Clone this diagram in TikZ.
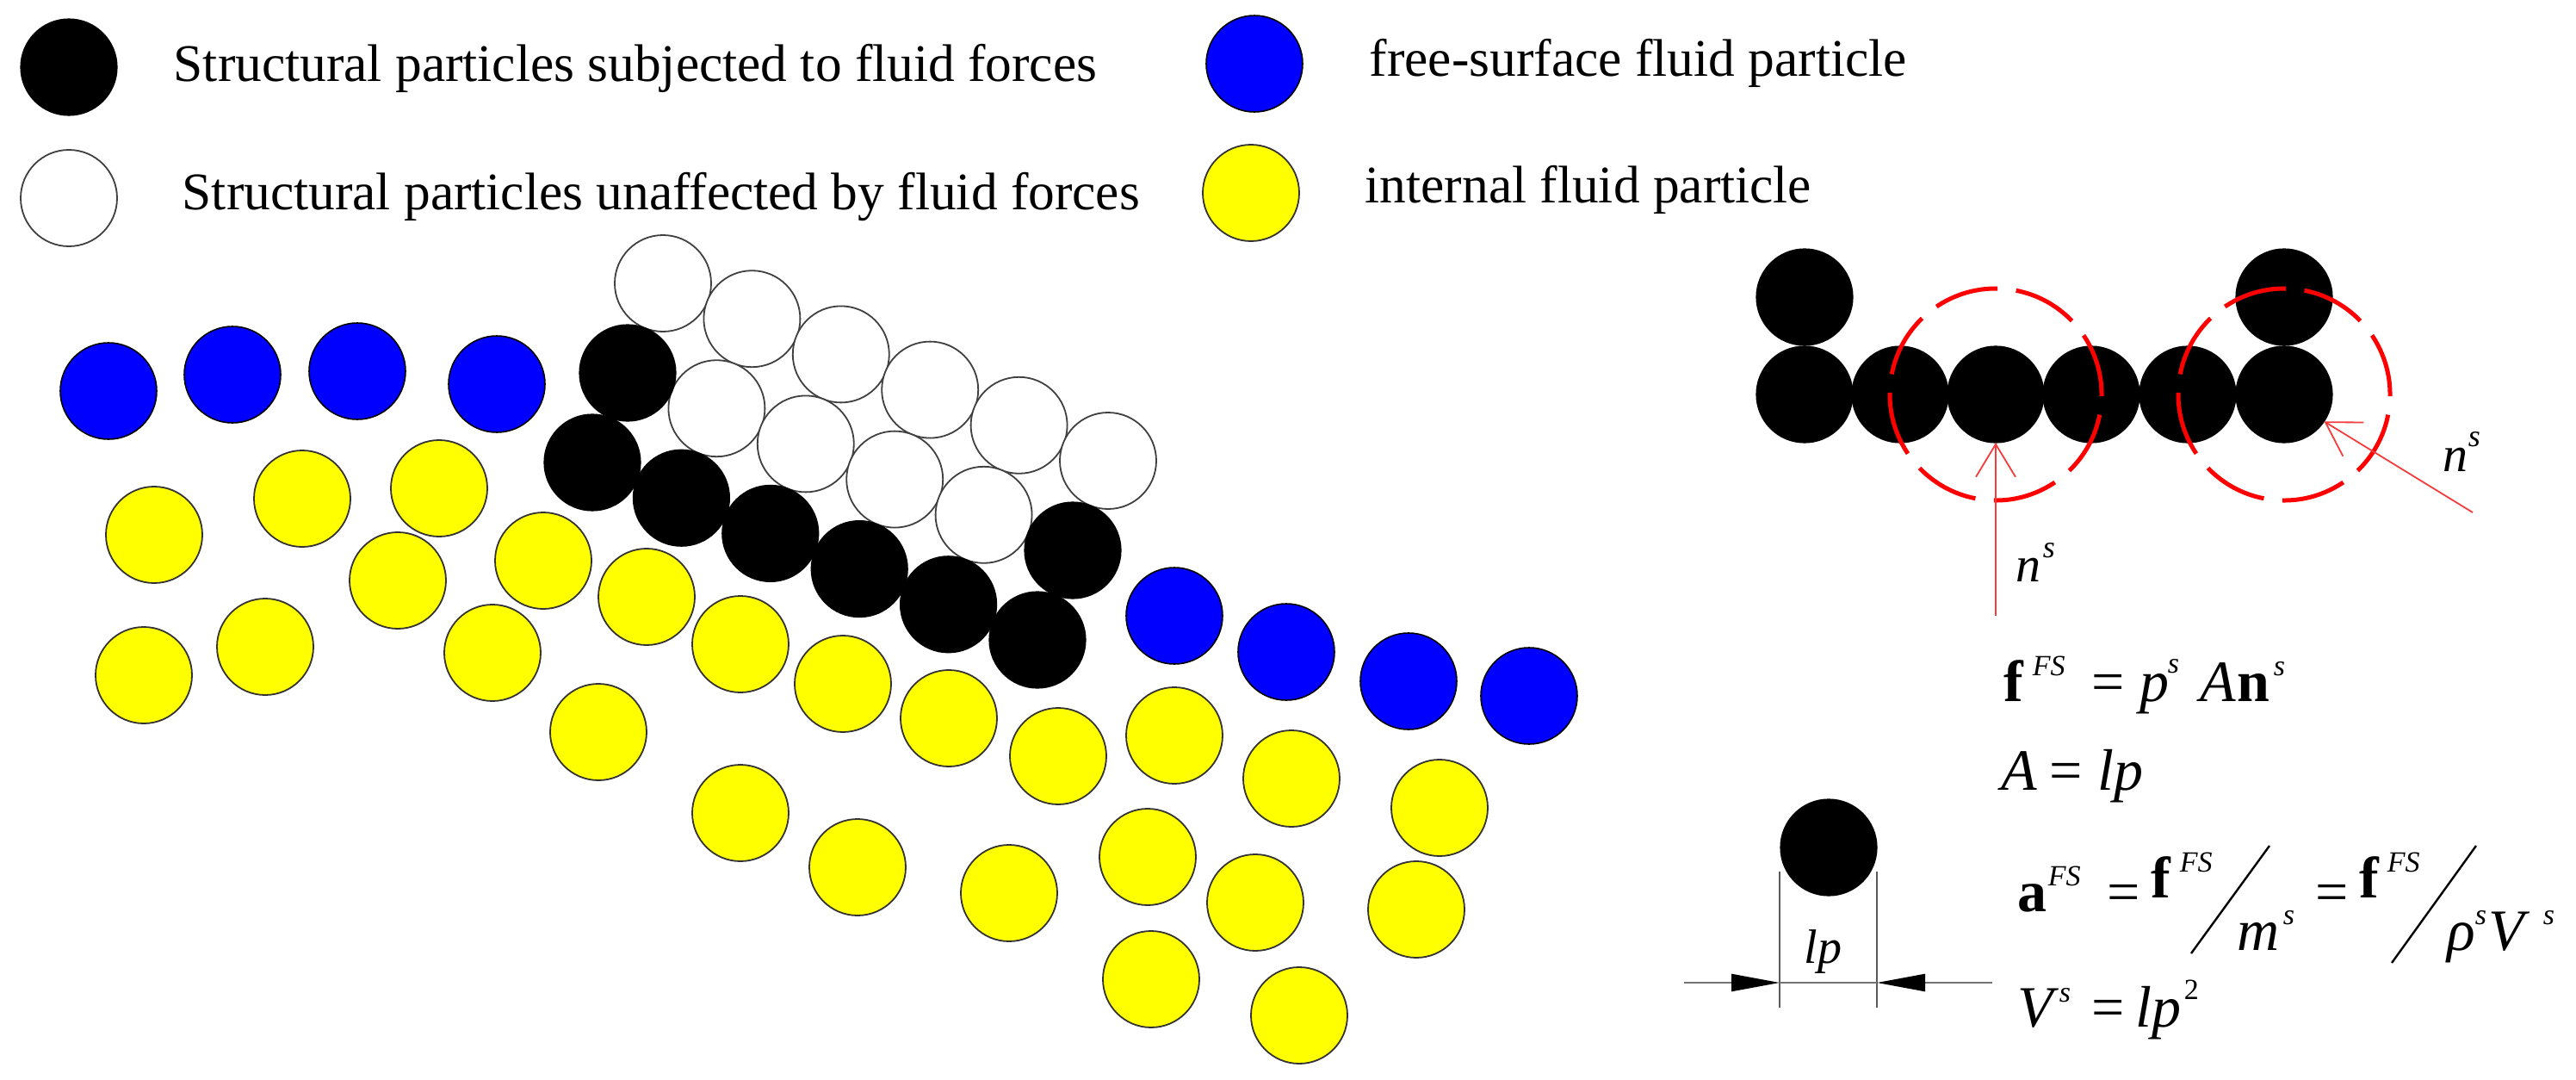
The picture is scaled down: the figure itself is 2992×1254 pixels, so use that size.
\documentclass[tikz,border=0pt]{standalone}
\usepackage{fontspec}
\setmainfont{Liberation Serif}
\usetikzlibrary{arrows.meta}
\newlength\pxu
\setlength\pxu{0.25pt}
\newcommand\pc[3]{\rlap{\hspace*{#1\pxu}\raisebox{#2\pxu}{#3}}\ignorespaces}
\newcommand\sm{\fontsize{8.5}{10}\selectfont}
\newcommand\smm{\fontsize{9}{10}\selectfont}
\newcommand\im[1]{\textit{#1}}
\definecolor{fsblue}{RGB}{0,0,255}
\definecolor{infyellow}{RGB}{255,255,0}
\definecolor{ringred}{RGB}{255,0,0}
\definecolor{vecred}{RGB}{245,60,60}
\tikzset{
  part/.style={circle, minimum size=28pt, inner sep=0pt, outer sep=0pt},
  fsp/.style={part, fill=black, draw=black, line width=0.3pt},
  usp/.style={part, fill=white, draw=black!75, line width=0.45pt},
  fsf/.style={part, fill=fsblue, draw=black, line width=0.4pt},
  inf/.style={part, fill=infyellow, draw=black!80, line width=0.45pt},
  legtext/.style={anchor=base west, inner sep=0pt, font=\fontsize{15.35}{18}\selectfont},
  formula/.style={anchor=base west, inner sep=0pt, font=\fontsize{17}{20}\selectfont},
  nlabel/.style={anchor=base west, inner sep=0pt, font=\fontsize{14.5}{17}\selectfont},
  ring/.style={draw=ringred, line width=1.25pt, dash pattern=on 18.75pt off 5.4pt, dash phase=21.45pt},
  nvec/.style={draw=vecred, line width=0.45pt, -{Straight Barb[length=9.5pt,width=11.5pt]}},
  slashline/.style={draw=black, line width=0.6pt},
  dimline/.style={draw=black!55, line width=0.6pt},
  dimtip/.style={dimline, -{Triangle[length=14pt,width=5pt,color=black]}},
  extline/.style={draw=black!65, line width=0.35pt}
}
\begin{document}
\begin{tikzpicture}[x=0.25pt, y=0.25pt]
\fill[white] (0,0) rectangle (2992,-1254);
\useasboundingbox (0,0) rectangle (2992,-1254);

% legend
\node[fsp] (leg1) at (80,-78) {};
\node[usp] (leg2) at (80,-230) {};
\node[fsf] (leg3) at (1457,-74) {};
\node[inf] (leg4) at (1453,-224) {};
\node[legtext] (lt1) at (201,-94) {Structural particles subjected to fluid forces};
\node[legtext] (lt2) at (211,-243) {Structural particles unaffected by fluid forces};
\node[legtext] (lt3) at (1590,-88) {free-surface fluid particle};
\node[legtext] (lt4) at (1585,-235) {internal fluid particle};

% free-surface fluid particles
\node[fsf] (bl1) at (126,-454) {};
\node[fsf] (bl2) at (270,-435) {};
\node[fsf] (bl3) at (415,-431) {};
\node[fsf] (bl4) at (577,-446) {};
\node[fsf] (bl5) at (1364,-715) {};
\node[fsf] (bl6) at (1494,-757) {};
\node[fsf] (bl7) at (1636,-791) {};
\node[fsf] (bl8) at (1776,-808) {};

% internal fluid particles
\node[inf] (y1) at (179,-621) {};
\node[inf] (y2) at (351,-579) {};
\node[inf] (y3) at (510,-567) {};
\node[inf] (y4) at (462,-674) {};
\node[inf] (y5) at (631,-651) {};
\node[inf] (y6) at (751,-693) {};
\node[inf] (y7) at (167,-784) {};
\node[inf] (y8) at (308,-751) {};
\node[inf] (y9) at (572,-758) {};
\node[inf] (y10) at (860,-748) {};
\node[inf] (y11) at (695,-850) {};
\node[inf] (y12) at (860,-944) {};
\node[inf] (y13) at (979,-794) {};
\node[inf] (y14) at (1102,-834) {};
\node[inf] (y15) at (1229,-878) {};
\node[inf] (y16) at (1364,-854) {};
\node[inf] (y17) at (1500,-904) {};
\node[inf] (y18) at (1672,-938) {};
\node[inf] (y19) at (996,-1007) {};
\node[inf] (y20) at (1172,-1037) {};
\node[inf] (y21) at (1333,-995) {};
\node[inf] (y22) at (1458,-1048) {};
\node[inf] (y23) at (1645,-1056) {};
\node[inf] (y24) at (1337,-1137) {};
\node[inf] (y25) at (1509,-1179) {};

% structural particles unaffected
\node[usp] (w1) at (770,-329) {};
\node[usp] (w2) at (873.4,-370.2) {};
\node[usp] (w3) at (976.8,-411.4) {};
\node[usp] (w4) at (1080.2,-452.6) {};
\node[usp] (w5) at (1183.6,-493.8) {};
\node[usp] (w6) at (1287,-535) {};
\node[usp] (w7) at (832.4,-474.2) {};
\node[usp] (w8) at (935.8,-515.4) {};
\node[usp] (w9) at (1039.2,-556.6) {};
\node[usp] (w10) at (1142.6,-597.8) {};

% structural particles subjected
\node[fsp] (b1) at (729,-433) {};
\node[fsp] (b2) at (688,-537) {};
\node[fsp] (b3) at (791.4,-578.2) {};
\node[fsp] (b4) at (894.8,-619.4) {};
\node[fsp] (b5) at (998.2,-660.6) {};
\node[fsp] (b6) at (1101.6,-701.8) {};
\node[fsp] (b7) at (1205,-743) {};
\node[fsp] (b8) at (1246,-639) {};

% right cluster
\node[fsp] (r1) at (2096,-458) {};
\node[fsp] (r2) at (2207,-458) {};
\node[fsp] (r3) at (2318,-458) {};
\node[fsp] (r4) at (2429,-458) {};
\node[fsp] (r5) at (2541,-458) {};
\node[fsp] (r6) at (2653,-458) {};
\node[fsp] (rt1) at (2096,-345) {};
\node[fsp] (rt2) at (2653,-345) {};

\draw[ring] (r3.center) ++(84:123) arc[start angle=84, delta angle=360, radius=123];
\draw[ring] (r6.center) ++(84:123) arc[start angle=84, delta angle=360, radius=123];

\coordinate (t1) at (2318,-715);
\coordinate (t2) at (2872,-595);
\draw[nvec] (t1) -- (r3.south);
\draw[nvec] (t2) -- (r6.-34);

\node[nlabel] (n1) at (2339,-675) {\pc{0}{0}{\im{n}}\pc{31}{28}{\smm\im{s}}};
\node[nlabel] (n2) at (2835,-547) {\pc{0}{0}{\im{n}}\pc{29}{29}{\smm\im{s}}};

% single particle with dimension
\node[fsp] (lone) at (2124,-984) {};
\coordinate (v1t) at (2067,-1012);
\coordinate (v1b) at (2067,-1170);
\coordinate (v2t) at (2180,-1012);
\coordinate (v2b) at (2180,-1170);
\coordinate (dl) at (1956,-1141);
\coordinate (dr) at (2314,-1141);
\draw[extline] (v1t) -- (v1b);
\draw[extline] (v2t) -- (v2b);
\draw[dimline] (v1t |- dl) -- (v2t |- dr);
\draw[dimtip] (dl) -- (v1t |- dl);
\draw[dimtip] (dr) -- (v2t |- dr);
\node[nlabel, font=\fontsize{14}{16}\selectfont] (lp) at (2095,-1118) {\im{lp}};

% formulas
\node[formula] (f1) at (2325,-814) {\pc{0}{0}{\textbf{f}}\pc{33}{30}{\sm\im{FS}}\pc{102}{0}{=}\pc{158}{0}{\im{p}}\pc{190}{33}{\sm\im{s}}\pc{228}{0}{\im{A}}\pc{271}{0}{\textbf{n}}\pc{313}{30}{\sm\im{s}}};
\node[formula] (f2) at (2322,-917) {\pc{0}{0}{\im{A}}\pc{56}{0}{=}\pc{112}{0}{\im{lp}}};
\node[formula] (f3) at (2341,-1058) {\pc{0}{0}{\textbf{a}}\pc{35}{30}{\sm\im{FS}}\pc{104}{0}{=}\pc{155}{16}{\textbf{f}}\pc{188}{46}{\sm\im{FS}}\pc{255}{-45}{\im{m}}\pc{308}{-15}{\sm\im{s}}\pc{346}{0}{=}\pc{397}{16}{\textbf{f}}\pc{429}{46}{\sm\im{FS}}\pc{499}{-45}{\im{ρ}}\pc{531}{-15}{\sm\im{s}}\pc{547}{-45}{\im{V}}\pc{610}{-15}{\sm\im{s}}};
\draw[slashline] (2636,-982) -- (2545,-1107);
\draw[slashline] (2876,-982) -- (2778,-1118);
\node[formula] (f4) at (2341,-1192) {\pc{0}{0}{\im{V}}\pc{48}{29}{\sm\im{s}}\pc{86}{0}{=}\pc{137}{0}{\im{lp}}\pc{193}{32}{\sm 2}};
\end{tikzpicture}
\end{document}
